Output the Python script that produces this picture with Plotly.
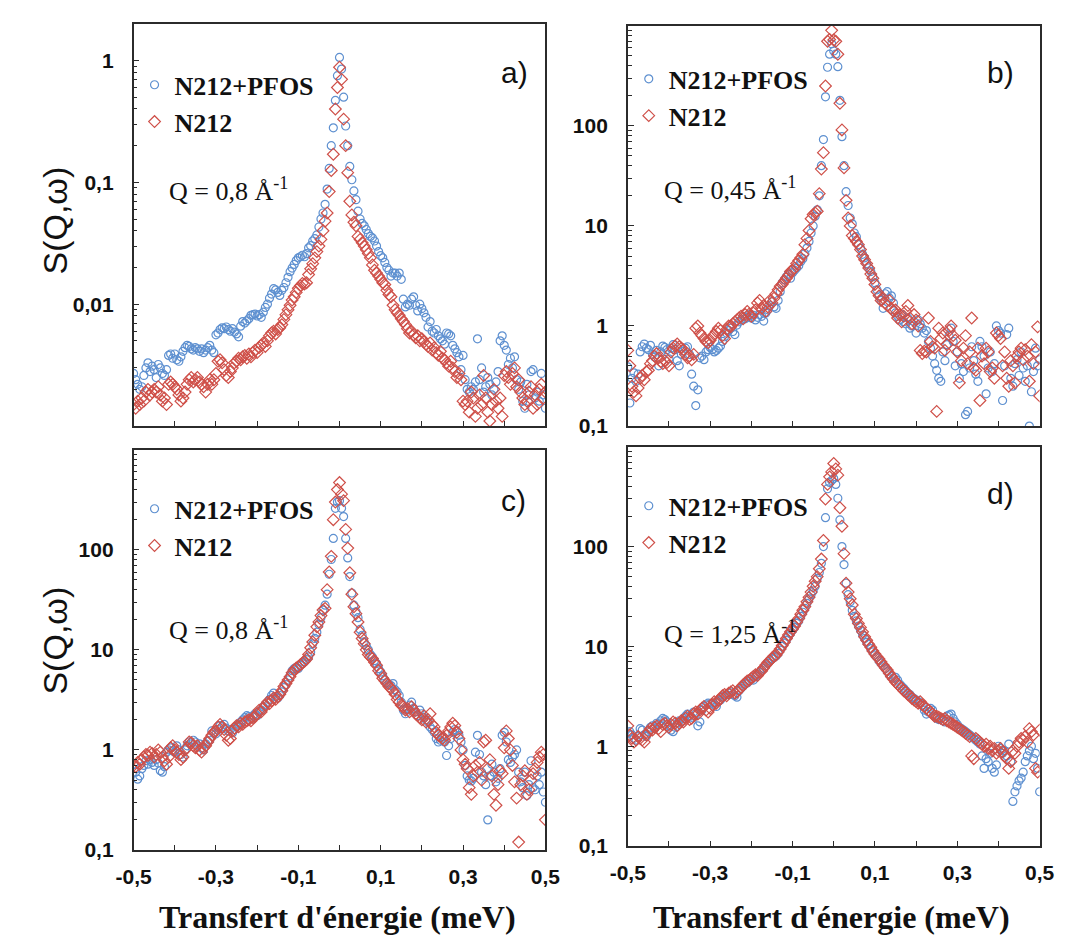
import plotly.graph_objects as go

# Energy transfer grid (meV)
E = [-0.5, -0.495, -0.49, -0.485, -0.48, -0.475, -0.47, -0.465, -0.46, -0.455,
     -0.45, -0.445, -0.44, -0.435, -0.43, -0.425, -0.42, -0.415, -0.41, -0.405,
     -0.4, -0.395, -0.39, -0.385, -0.38, -0.375, -0.37, -0.365, -0.36, -0.355,
     -0.35, -0.345, -0.34, -0.335, -0.33, -0.325, -0.32, -0.315, -0.31, -0.305,
     -0.3, -0.295, -0.29, -0.285, -0.28, -0.275, -0.27, -0.265, -0.26, -0.255,
     -0.25, -0.245, -0.24, -0.235, -0.23, -0.225, -0.22, -0.215, -0.21, -0.205,
     -0.2, -0.195, -0.19, -0.185, -0.18, -0.175, -0.17, -0.165, -0.16, -0.155,
     -0.15, -0.145, -0.14, -0.135, -0.13, -0.125, -0.12, -0.115, -0.11, -0.105,
     -0.1, -0.095, -0.09, -0.085, -0.08, -0.075, -0.07, -0.065, -0.06, -0.055,
     -0.05, -0.045, -0.04, -0.035, -0.03, -0.025, -0.02, -0.015, -0.01, -0.005,
     0.0,
     0.005, 0.01, 0.015, 0.02, 0.025, 0.03, 0.035, 0.04, 0.045, 0.05,
     0.055, 0.06, 0.065, 0.07, 0.075, 0.08, 0.085, 0.09, 0.095, 0.1,
     0.105, 0.11, 0.115, 0.12, 0.125, 0.13, 0.135, 0.14, 0.145, 0.15,
     0.155, 0.16, 0.165, 0.17, 0.175, 0.18, 0.185, 0.19, 0.195, 0.2,
     0.205, 0.21, 0.215, 0.22, 0.225, 0.23, 0.235, 0.24, 0.245, 0.25,
     0.255, 0.26, 0.265, 0.27, 0.275, 0.28, 0.285, 0.29, 0.295, 0.3,
     0.305, 0.31, 0.315, 0.32, 0.325, 0.33, 0.335, 0.34, 0.345, 0.35,
     0.355, 0.36, 0.365, 0.37, 0.375, 0.38, 0.385, 0.39, 0.395, 0.4,
     0.405, 0.41, 0.415, 0.42, 0.425, 0.43, 0.435, 0.44, 0.445, 0.45,
     0.455, 0.46, 0.465, 0.47, 0.475, 0.48, 0.485, 0.49, 0.495, 0.5]

# ---- panel a) Q = 0,8 A-1 ----
A_PFOS = [0.0027, 0.0024, 0.0022, 0.0020, 0.0021, 0.0026, 0.0030, 0.0033, 0.0028, 0.0031,
          0.0029, 0.0025, 0.0032, 0.0030, 0.0027, 0.0026, 0.0029, 0.0038, 0.0039, 0.0036,
          0.0039, 0.0035, 0.0034, 0.0037, 0.0041, 0.0044, 0.0046, 0.0045, 0.0043, 0.0042,
          0.0044, 0.0043, 0.0041, 0.0043, 0.0040, 0.0042, 0.0044, 0.0046, 0.0042, 0.0040,
          0.0056, 0.0058, 0.0062, 0.0064, 0.0063, 0.0065, 0.0062, 0.0060, 0.0063, 0.0059,
          0.0057, 0.0054, 0.0066, 0.0072, 0.0070, 0.0073, 0.0076, 0.0081, 0.0082, 0.0083,
          0.0080, 0.0082, 0.0078, 0.0086, 0.0094, 0.0100, 0.0112, 0.0121, 0.0134, 0.0131,
          0.0125, 0.0118, 0.0130, 0.0137, 0.0150, 0.0166, 0.0185, 0.0198, 0.0212, 0.0228,
          0.0240, 0.0245, 0.0252, 0.0245, 0.0260, 0.0290, 0.0302, 0.0330, 0.0345, 0.0370,
          0.043, 0.050, 0.056, 0.066, 0.088, 0.130, 0.200, 0.280, 0.470, 0.750,
          1.06,
          0.85, 0.50, 0.29, 0.20, 0.135, 0.105, 0.085, 0.072, 0.058, 0.050,
          0.046, 0.044, 0.041, 0.038, 0.036, 0.035, 0.033, 0.030, 0.027, 0.025,
          0.024, 0.022, 0.020, 0.019, 0.017, 0.018, 0.018, 0.017, 0.018, 0.016,
          0.0110, 0.0095, 0.0100, 0.0098, 0.0110, 0.0115, 0.0098, 0.0088, 0.0100, 0.0092,
          0.0085, 0.0078, 0.0065, 0.0072, 0.0060, 0.0058, 0.0062, 0.0055, 0.0052, 0.0050,
          0.0047, 0.0058, 0.0057, 0.0055, 0.0046, 0.0043, 0.0040, 0.0037, 0.0029, 0.0038,
          0.0024, 0.0020, 0.0019, 0.0021, 0.0020, 0.0023, 0.0052, 0.0024, 0.0030, 0.0019,
          0.0021, 0.0025, 0.0022, 0.0018, 0.0020, 0.0023, 0.0028, 0.0050, 0.0055, 0.0046,
          0.0042, 0.0032, 0.0036, 0.0030, 0.0037, 0.0024, 0.0020, 0.0023, 0.0016, 0.0014,
          0.0022, 0.0018, 0.0028, 0.0029, 0.0017, 0.0019, 0.0016, 0.0027, 0.0018, 0.0014]
A_N212 = [0.0015, 0.0014, 0.0016, 0.0015, 0.0017, 0.0016, 0.0019, 0.0020, 0.0018, 0.0019,
          0.0020, 0.0019, 0.0021, 0.0018, 0.0016, 0.0017, 0.0015, 0.0022, 0.0023, 0.0022,
          0.0021, 0.0020, 0.0018, 0.0016, 0.0017, 0.0019, 0.0022, 0.0024, 0.0025, 0.0023,
          0.0024, 0.0025, 0.0023, 0.0022, 0.0021, 0.0019, 0.0022, 0.0024, 0.0022, 0.0024,
          0.0027, 0.0034, 0.0035, 0.0033, 0.0029, 0.0026, 0.0025, 0.0028, 0.0030, 0.0033,
          0.0034, 0.0036, 0.0035, 0.0037, 0.0038, 0.0036, 0.0039, 0.0037, 0.0040, 0.0042,
          0.0040, 0.0044, 0.0046, 0.0048, 0.0045, 0.0050, 0.0055, 0.0058, 0.0060, 0.0057,
          0.0062, 0.0064, 0.0068, 0.0075, 0.0082, 0.0090, 0.0098, 0.0108, 0.0115, 0.0125,
          0.0135, 0.0142, 0.0148, 0.0146, 0.0150, 0.0175, 0.0195, 0.0215, 0.0240, 0.0270,
          0.030, 0.034, 0.040, 0.048, 0.056, 0.084, 0.125, 0.170, 0.400, 0.600,
          0.88,
          0.70, 0.33, 0.20, 0.12, 0.070, 0.054, 0.047, 0.044, 0.036, 0.034,
          0.032, 0.030, 0.028, 0.026, 0.024, 0.021, 0.019, 0.018, 0.017, 0.016,
          0.0150, 0.0145, 0.0130, 0.0120, 0.0115, 0.0098, 0.0090, 0.0085, 0.0081, 0.0076,
          0.0072, 0.0068, 0.0063, 0.0058, 0.0060, 0.0056, 0.0053, 0.0055, 0.0050, 0.0052,
          0.0049, 0.0047, 0.0045, 0.0048, 0.0042, 0.0044, 0.0040, 0.0038, 0.0041, 0.0036,
          0.0035, 0.0033, 0.0031, 0.0034, 0.0030, 0.0028, 0.0025, 0.0027, 0.0024, 0.0016,
          0.0015, 0.0016, 0.0013, 0.0019, 0.0017, 0.0012, 0.0014, 0.0018, 0.0015, 0.0026,
          0.0017, 0.0013, 0.0011, 0.0015, 0.0020, 0.0016, 0.0014, 0.0017, 0.0012, 0.0026,
          0.0028, 0.0025, 0.0022, 0.0027, 0.0030, 0.0021, 0.0024, 0.0019, 0.0017, 0.0015,
          0.0016, 0.0019, 0.0021, 0.0014, 0.0018, 0.0015, 0.0020, 0.0022, 0.0017, 0.0019]

# ---- panel b) Q = 0,45 A-1 ----
B_PFOS = [0.39, 0.17, 0.30, 0.34, 0.28, 0.33, 0.55, 0.62, 0.66, 0.60,
          0.58, 0.64, 0.52, 0.49, 0.57, 0.40, 0.55, 0.63, 0.61, 0.58,
          0.47, 0.60, 0.65, 0.58, 0.45, 0.40, 0.52, 0.56, 0.60, 0.62,
          0.52, 0.33, 0.25, 0.16, 0.23, 0.48, 0.50, 0.46, 0.55, 0.58,
          0.61, 0.58, 0.55, 0.57, 0.60, 0.63, 0.70, 0.78, 0.85, 0.90,
          0.95, 0.88, 0.82, 1.02, 1.10, 1.15, 1.25, 1.18, 1.22, 1.30,
          1.20, 1.28, 1.15, 1.22, 1.30, 1.25, 1.12, 1.35, 1.45, 1.60,
          1.75, 1.55, 1.50, 1.80, 2.20, 2.70, 2.90, 3.10, 3.30, 3.00,
          3.40, 3.60, 3.80, 4.00, 4.40, 4.70, 5.30, 6.00, 7.00, 8.50,
          10.0, 12.5, 14.5, 20.0, 40.0, 73.0, 195, 385, 520, 660,
          560,
          520, 390, 180, 78, 40, 22, 16, 12, 10.5, 8.5,
          7.8, 6.5, 6.0, 5.2, 4.8, 4.2, 3.8, 3.5, 3.1, 2.7,
          2.3, 2.0, 1.8, 1.5, 2.1, 2.2, 1.9, 2.0, 1.7, 1.35,
          1.25, 1.15, 1.30, 1.10, 1.05, 1.20, 0.95, 1.00, 1.10, 0.85,
          1.15, 1.05, 0.95, 0.85, 0.90, 0.70, 0.60, 0.50, 0.42, 0.36,
          0.30, 0.28, 0.55, 0.45, 0.65, 0.80, 0.95, 0.70, 0.40, 0.55,
          0.30, 0.42, 0.35, 0.13, 0.14, 0.38, 0.62, 0.45, 0.33, 0.28,
          0.70, 0.62, 0.50, 0.21, 0.38, 0.55, 0.35, 0.42, 1.00, 0.90,
          0.85, 0.18, 0.40, 0.82, 0.95, 0.30, 0.25, 0.42, 0.46, 0.32,
          0.55, 0.38, 0.28, 0.40, 0.10, 0.22, 0.35, 0.60, 0.40, 0.46]
B_N212 = [0.57, 0.40, 0.25, 0.22, 0.20, 0.24, 0.30, 0.32, 0.29, 0.35,
          0.36, 0.42, 0.45, 0.50, 0.53, 0.48, 0.44, 0.42, 0.45, 0.43,
          0.40, 0.55, 0.60, 0.63, 0.66, 0.62, 0.60, 0.58, 0.52, 0.48,
          0.50, 0.46, 0.52, 0.95, 1.00, 0.85, 0.80, 0.75, 0.70, 0.68,
          0.72, 0.78, 0.82, 0.88, 0.95, 0.90, 0.80, 0.75, 0.92, 1.00,
          0.98, 1.05, 1.10, 1.15, 1.20, 1.25, 1.18, 1.30, 1.40, 1.32,
          1.25, 1.35, 1.45, 1.70, 1.80, 1.50, 1.60, 1.40, 1.55, 1.80,
          1.70, 1.90, 2.10, 2.30, 2.50, 2.60, 2.80, 3.00, 3.20, 3.50,
          3.60, 3.80, 4.20, 4.50, 4.80, 5.20, 6.50, 7.50, 9.00, 11.8,
          13.0, 13.5, 14.0, 21.0, 37.0, 54.0, 250, 700, 730, 900,
          720,
          700, 520, 168, 91, 38, 18, 12, 10, 8.0, 7.5,
          7.0, 6.5, 5.8, 5.0, 4.6, 4.2, 3.8, 3.3, 3.0, 2.6,
          2.2, 2.0, 1.8, 1.9, 1.7, 1.6, 1.8, 1.5, 1.4, 1.45,
          1.20, 1.30, 1.10, 1.25, 1.40, 1.60, 1.20, 1.05, 1.30, 1.15,
          1.00, 0.57, 0.53, 0.56, 0.55, 1.20, 0.70, 0.62, 0.60, 0.14,
          0.95, 0.75, 0.85, 0.57, 0.65, 0.90, 1.00, 0.80, 0.72, 0.55,
          0.27, 0.45, 0.60, 0.80, 0.42, 0.55, 1.20, 0.38, 0.36, 0.60,
          0.18, 0.50, 0.42, 0.60, 0.55, 0.35, 0.38, 0.30, 0.85, 0.80,
          0.75, 0.40, 0.55, 0.30, 0.25, 0.45, 0.40, 0.27, 0.50, 0.55,
          0.60, 0.46, 0.58, 0.50, 0.28, 0.65, 0.42, 0.55, 0.98, 0.20]

# ---- panel c) Q = 0,8 A-1 ----
C_PFOS = [0.72, 0.60, 0.51, 0.55, 0.65, 0.70, 0.78, 0.72, 0.80, 0.75,
          0.70, 0.80, 0.74, 0.62, 0.60, 0.68, 0.95, 1.00, 1.05, 0.98,
          0.95, 1.10, 1.00, 0.90, 0.85, 1.00, 1.10, 1.20, 1.15, 1.25,
          1.20, 1.10, 1.15, 1.05, 1.00, 1.15, 1.22, 1.25, 1.55, 1.50,
          1.45, 1.60, 1.75, 1.70, 1.80, 1.65, 1.55, 1.60, 1.48, 1.60,
          1.70, 1.80, 1.90, 2.00, 2.10, 2.20, 2.15, 2.05, 2.20, 2.30,
          2.20, 2.40, 2.50, 2.70, 2.85, 3.00, 3.20, 3.50, 3.70, 3.40,
          3.30, 3.50, 3.80, 4.20, 4.50, 5.00, 5.50, 6.20, 6.50, 6.70,
          6.50, 7.00, 7.30, 7.60, 8.00, 8.50, 9.50, 11.5, 13.0, 15.0,
          18.0, 21.0, 25.0, 28.0, 36.0, 57.0, 80.0, 130, 260, 300,
          310,
          260, 215, 130, 83, 54, 37, 28, 24, 21, 16,
          14, 12, 11, 10, 9.0, 8.5, 7.8, 7.3, 6.5, 6.0,
          5.5, 5.0, 4.7, 4.5, 4.4, 4.6, 4.0, 3.8, 3.5, 3.0,
          2.5, 2.3, 2.6, 2.8, 3.0, 2.6, 2.4, 2.2, 2.5, 2.3,
          2.1, 2.0, 1.9, 1.7, 1.6, 1.5, 1.3, 1.2, 1.25, 1.35,
          1.20, 0.88, 1.10, 1.30, 1.50, 1.60, 1.55, 1.40, 1.20, 1.00,
          0.70, 0.55, 0.50, 0.49, 0.52, 0.95, 1.40, 0.90, 0.60, 0.55,
          0.45, 0.20, 0.55, 0.72, 0.60, 0.48, 0.52, 0.65, 1.40, 1.50,
          1.20, 0.80, 0.75, 0.85, 0.90, 1.00, 0.60, 0.48, 0.42, 0.60,
          0.35, 0.45, 0.78, 0.42, 0.40, 0.55, 0.45, 0.60, 0.38, 0.30]
C_N212 = [0.70, 0.68, 0.75, 0.72, 0.80, 0.85, 0.90, 0.88, 0.95, 0.92,
          0.85, 0.90, 1.00, 0.95, 0.85, 0.78, 0.72, 0.85, 1.05, 1.10,
          1.00, 0.95, 0.90, 0.80, 0.85, 1.00, 1.05, 1.20, 1.18, 1.10,
          1.05, 1.10, 1.00, 0.95, 1.05, 1.10, 1.20, 1.30, 1.40, 1.50,
          1.55, 1.70, 1.80, 1.70, 1.60, 1.40, 1.25, 1.30, 1.55, 1.65,
          1.75, 1.70, 1.85, 1.80, 1.90, 1.95, 2.00, 1.95, 2.10, 2.15,
          2.30, 2.50, 2.40, 2.60, 2.80, 3.00, 2.90, 3.10, 3.30, 3.20,
          3.40, 3.60, 3.90, 4.30, 4.60, 5.00, 5.40, 5.90, 6.30, 6.60,
          6.80, 7.10, 7.40, 7.70, 8.10, 9.00, 10.5, 12.0, 14.0, 17.0,
          19.0, 22.0, 25.0, 26.0, 40.0, 60.0, 86.0, 200, 300, 400,
          470,
          360, 310, 160, 104, 59, 36, 27, 23, 19, 15,
          13.0, 11.5, 10.0, 9.0, 8.5, 8.2, 7.5, 7.0, 6.2, 5.8,
          5.2, 4.9, 4.6, 4.3, 4.1, 3.9, 3.6, 3.2, 3.0, 2.8,
          2.7, 2.5, 2.6, 2.4, 2.7, 2.5, 2.3, 2.2, 2.1, 2.0,
          2.2, 1.9, 2.0, 2.3, 1.8, 1.7, 1.5, 1.4, 1.35, 1.30,
          1.25, 1.40, 1.55, 1.70, 1.85, 1.75, 1.50, 1.30, 1.00, 0.80,
          0.72, 0.65, 0.42, 0.36, 0.55, 0.70, 0.60, 0.75, 0.50, 1.20,
          1.25, 0.65, 0.80, 0.55, 0.36, 0.28, 0.45, 0.62, 0.58, 1.05,
          1.55, 1.30, 1.00, 0.70, 0.48, 0.33, 0.12, 0.45, 0.55, 0.62,
          0.36, 0.40, 0.50, 0.58, 0.65, 0.75, 0.85, 0.95, 0.90, 0.20]

# ---- panel d) Q = 1,25 A-1 ----
D_PFOS = [1.35, 1.40, 1.30, 1.20, 1.15, 1.25, 1.50, 1.45, 1.30, 1.25,
          1.40, 1.55, 1.60, 1.50, 1.70, 1.65, 1.80, 1.90, 1.85, 1.75,
          1.60, 1.45, 1.40, 1.55, 1.70, 1.80, 1.75, 1.90, 2.00, 2.10,
          2.00, 1.95, 2.20, 2.10, 1.60, 1.75, 2.30, 2.50, 2.60, 2.70,
          2.65, 2.70, 2.60, 2.50, 2.80, 2.90, 3.10, 3.20, 3.30, 3.40,
          3.50, 3.30, 3.20, 3.10, 3.60, 3.80, 4.00, 4.20, 4.30, 4.50,
          4.70, 4.60, 5.00, 5.30, 5.50, 5.80, 6.00, 6.40, 6.80, 7.20,
          7.50, 7.80, 8.00, 8.50, 9.20, 10.0, 10.8, 11.5, 12.5, 13.5,
          14.5, 15.5, 17.0, 18.0, 20.0, 22.0, 24.0, 27.0, 30.0, 33.0,
          36.0, 40.0, 48.0, 55.0, 68.0, 100, 195, 380, 440, 460,
          480,
          420, 305, 185, 100, 66, 43, 33, 28, 23, 20,
          18, 16, 14.5, 13, 12, 11, 10.5, 9.5, 8.8, 8.2,
          7.8, 7.2, 6.8, 6.4, 6.0, 5.6, 5.2, 5.0, 4.8, 4.9,
          4.6, 4.2, 4.0, 3.8, 3.6, 3.4, 3.3, 3.1, 3.0, 2.9,
          2.8, 2.7, 2.6, 2.3, 2.1, 2.2, 2.4, 2.3, 2.0, 1.9,
          1.85, 1.90, 1.80, 1.75, 2.00, 2.05, 2.10, 1.90, 1.75, 1.65,
          1.55, 1.50, 1.45, 1.40, 1.35, 1.30, 1.25, 1.20, 1.15, 1.10,
          1.05, 0.80, 0.60, 0.75, 0.70, 0.85, 0.60, 0.55, 0.65, 1.00,
          0.95, 0.85, 0.90, 0.80, 1.05, 0.70, 0.28, 0.35, 0.40, 0.45,
          0.48, 0.55, 0.70, 0.80, 0.90, 1.00, 0.75, 0.85, 0.60, 0.35]
D_N212 = [1.60, 1.30, 1.20, 1.10, 1.15, 1.25, 1.20, 1.15, 1.10, 1.30,
          1.40, 1.50, 1.45, 1.55, 1.60, 1.50, 1.40, 1.65, 1.70, 1.60,
          1.55, 1.65, 1.75, 1.70, 1.60, 1.70, 1.80, 1.75, 1.90, 2.00,
          1.85, 1.90, 2.10, 2.20, 2.10, 2.30, 2.40, 2.50, 2.30, 2.20,
          2.40, 2.60, 2.80, 2.70, 2.90, 3.00, 3.20, 3.30, 3.20, 3.40,
          3.50, 3.60, 3.40, 3.50, 3.70, 3.90, 4.10, 4.30, 4.50, 4.60,
          4.80, 5.00, 5.20, 5.10, 5.50, 5.70, 6.10, 6.50, 6.90, 7.20,
          7.60, 8.00, 8.20, 8.80, 9.40, 10.2, 11.0, 12.0, 13.0, 14.0,
          15.0, 16.0, 17.5, 19.0, 21.0, 23.0, 25.0, 28.0, 31.0, 35.0,
          40.0, 45.0, 50.0, 60.0, 75.0, 115, 300, 420, 500, 560,
          680,
          600, 520, 245, 160, 85, 43, 35, 30, 26, 21,
          19, 17, 15.5, 14, 12.5, 11.5, 10.5, 9.8, 9.0, 8.4,
          7.9, 7.5, 7.0, 6.5, 6.1, 5.8, 5.4, 5.0, 4.7, 4.4,
          4.2, 4.0, 3.8, 3.6, 3.5, 3.3, 3.2, 3.0, 2.9, 2.8,
          2.7, 2.8, 2.6, 2.5, 2.4, 2.3, 2.2, 2.1, 2.0, 2.0,
          1.95, 1.90, 1.85, 1.90, 1.80, 1.75, 1.70, 1.65, 1.60, 1.55,
          1.50, 1.45, 1.40, 1.35, 1.30, 1.25, 0.80, 0.75, 1.20, 1.15,
          1.10, 1.05, 1.00, 1.05, 0.95, 1.00, 0.90, 0.95, 0.85, 0.90,
          0.95, 0.88, 0.80, 0.75, 0.60, 0.70, 0.90, 0.85, 1.00, 1.10,
          1.20, 1.15, 1.25, 1.10, 1.50, 1.40, 1.30, 0.60, 0.55, 1.45]

SERIES_NAMES = ["N212+PFOS", "N212"]
PANEL_LABELS = ["a)", "b)", "c)", "d)"]
Q_LABELS = ["Q = 0,8 Å<sup>-1</sup>", "Q = 0,45 Å<sup>-1</sup>",
            "Q = 0,8 Å<sup>-1</sup>", "Q = 1,25 Å<sup>-1</sup>"]
X_TICKVALS = [-0.5, -0.4, -0.3, -0.2, -0.1, 0.0, 0.1, 0.2, 0.3, 0.4, 0.5]
X_TICKTEXT = ["-0,5", "", "-0,3", "", "-0,1", "", "0,1", "", "0,3", "", "0,5"]
YA_TICKVALS = [0.01, 0.1, 1]
YA_TICKTEXT = ["0,01", "0,1", "1"]
YB_TICKVALS = [0.1, 1, 10, 100]
YB_TICKTEXT = ["0,1", "1", "10", "100"]
X_TITLE = "Transfert d'énergie (meV)"
Y_TITLE = "S(Q,ω)"

panels = [(A_PFOS, A_N212), (B_PFOS, B_N212), (C_PFOS, C_N212), (D_PFOS, D_N212)]

W, H = 1067, 937
# plot-area boxes in pixels: left, right, top, bottom
boxes = [(111, 536, 16, 423), (621, 1046, 18, 423),
         (111, 536, 447, 852), (621, 1046, 444, 848)]
yranges = [[-3, 0.301], [-1, 3], [-1, 3], [-1, 3]]
q_offsets = [168, 165, 181, 188]
legend_offsets = [38, 30, 36, 36]
letter_offsets = [(32, 49), (40, 47), (33, 51), (40, 47)]

BLUE = "#5e90d0"
RED = "#cf5049"
AX = "#2b2b2b"
TICKFONT = dict(family="Liberation Sans, Arial", size=21, color="#111", weight="bold")

def px(x):
    return x / W

def py(y):
    return 1 - y / H

fig = go.Figure()
layout = dict(width=W, height=H, margin=dict(l=0, r=0, t=0, b=0),
              paper_bgcolor="white", plot_bgcolor="white", showlegend=True,
              annotations=[])

for k, (pf, nn) in enumerate(panels):
    sfx = "" if k == 0 else str(k + 1)
    leg = "legend" if k == 0 else "legend" + str(k + 1)
    fig.add_trace(go.Scatter(x=E, y=pf, mode="markers", name=SERIES_NAMES[0],
                             xaxis="x" + sfx, yaxis="y" + sfx, legend=leg,
                             legendgroup="p%d" % k,
                             marker=dict(symbol="circle-open", size=8, color=BLUE,
                                         line=dict(width=1.2, color=BLUE))))
    fig.add_trace(go.Scatter(x=E, y=nn, mode="markers", name=SERIES_NAMES[1],
                             xaxis="x" + sfx, yaxis="y" + sfx, legend=leg,
                             legendgroup="n%d" % k,
                             marker=dict(symbol="diamond-open", size=9, color=RED,
                                         line=dict(width=1.2, color=RED))))
    l, r, t, b = boxes[k]
    bottom = k >= 2
    layout["xaxis" + sfx] = dict(
        domain=[px(l), px(r)], anchor="y" + sfx, range=[-0.5, 0.5],
        showline=True, mirror=True, linecolor=AX, linewidth=1.5,
        ticks="inside", ticklen=5, tickwidth=1.2, tickcolor=AX,
        tickmode="array", tickvals=X_TICKVALS, ticktext=X_TICKTEXT,
        showticklabels=bottom, showgrid=False, zeroline=False,
        ticklabelstandoff=7, tickfont=TICKFONT)
    yt = (YA_TICKVALS, YA_TICKTEXT) if k == 0 else (YB_TICKVALS, YB_TICKTEXT)
    layout["yaxis" + sfx] = dict(
        domain=[py(b), py(t)], anchor="x" + sfx, type="log", range=yranges[k],
        showline=True, mirror=True, linecolor=AX, linewidth=1.5,
        ticks="inside", ticklen=6, tickwidth=1.2, tickcolor=AX,
        tickmode="array", tickvals=yt[0], ticktext=yt[1],
        minor=dict(ticks="inside", ticklen=4, tickwidth=1, tickcolor=AX, dtick="D1", showgrid=False),
        showgrid=False, zeroline=False, ticklabelstandoff=14, tickfont=TICKFONT)
    layout[leg] = dict(x=px(l + 1), y=py(t + legend_offsets[k]), xanchor="left", yanchor="top",
                       bgcolor="rgba(0,0,0,0)", borderwidth=0, tracegroupgap=0,
                       itemclick=False,
                       font=dict(family="Liberation Serif, Times New Roman", size=26,
                                 color="#111", weight="bold"))
    # panel letter
    dx, dy = letter_offsets[k]
    layout["annotations"].append(dict(
        text=PANEL_LABELS[k], x=px(r - dx), y=py(t + dy), xref="paper", yref="paper",
        showarrow=False, xanchor="center", yanchor="middle",
        font=dict(family="Liberation Sans, Arial", size=30, color="#111")))
    # Q annotation
    layout["annotations"].append(dict(
        text=Q_LABELS[k], x=px(l + 35), y=py(t + q_offsets[k]), xref="paper", yref="paper",
        showarrow=False, xanchor="left", yanchor="middle",
        font=dict(family="Liberation Serif, Times New Roman", size=26, color="#111")))

# y titles (left panels)
for yc in [215, 640]:
    layout["annotations"].append(dict(
        text=Y_TITLE, x=px(30), y=py(yc), xref="paper", yref="paper", textangle=-90,
        showarrow=False, xanchor="center", yanchor="middle",
        font=dict(family="Liberation Sans, Arial", size=34, color="#111")))
# x titles (bottom panels)
for xc in [321, 831]:
    layout["annotations"].append(dict(
        text=X_TITLE, x=px(xc), y=py(920), xref="paper", yref="paper",
        showarrow=False, xanchor="center", yanchor="middle",
        font=dict(family="Liberation Serif, Times New Roman", size=32, color="#111",
                  weight="bold")))

fig.update_layout(**layout)
fig.write_html("out.html")
